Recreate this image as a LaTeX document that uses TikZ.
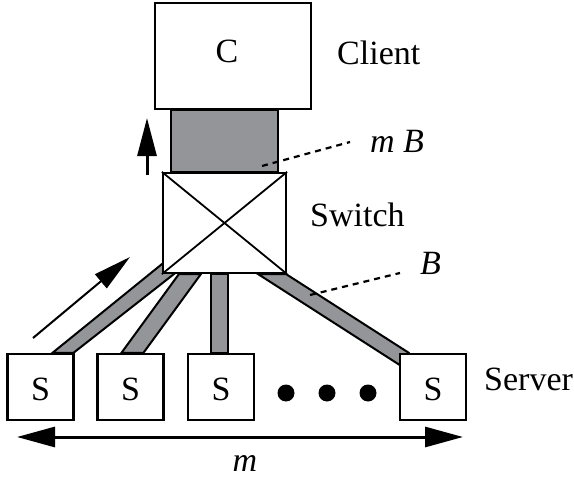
\documentclass[tikz,border=0pt]{standalone}
\usepackage{fontspec}
\setmainfont{Liberation Serif}
\usetikzlibrary{arrows.meta,calc,backgrounds}
\definecolor{bandgray}{RGB}{148,149,153}
\begin{document}
\begin{tikzpicture}[x=1pt,y=-1pt,
  box/.style={draw,line width=2.2pt,fill=white,inner sep=0pt},
  srv/.style={box,minimum width=66pt,minimum height=66pt},
  band/.style={draw,line width=2pt,fill=bandgray,line join=miter},
  lbl/.style={font=\fontsize{34}{40}\selectfont,inner sep=0pt},
  ann/.style={line width=2.2pt,dash pattern=on 6pt off 5pt},
  crossline/.style={line width=1.8pt},
]
\useasboundingbox (0,0) rectangle (574,479);

% boxes
\node[box,minimum width=156pt,minimum height=106pt] (cl) at (233,56) {};
\node[box,minimum width=123pt,minimum height=100pt] (sw) at (224.5,223) {};
\node[srv] (s1) at (40.5,387) {};
\node[srv] (s2) at (130.5,387) {};
\node[srv] (s3) at (221,387) {};
\node[srv] (s4) at (433,387) {};

\draw[crossline] (sw.north west) -- (sw.south east);
\draw[crossline] (sw.south west) -- (sw.north east);

% links (bands)
\begin{scope}[on background layer]
\draw[band] ($(cl.south)+(-62,0)$) rectangle ($(sw.north)+(53.5,0)$);
\draw[band] ($(s1.north west)+(46,0)$) -- ($(sw.south west)+(0,-10)$)
   -- ($(sw.south west)+(12,0)$) -- ($(s1.north west)+(67,0)$) -- cycle;
\draw[band] ($(s2.north west)+(25,0)$) -- ($(sw.south west)+(17,0)$)
   -- ($(sw.south west)+(39,0)$) -- ($(s2.north west)+(47,0)$) -- cycle;
\draw[band] ($(s3.north west)+(24,0)$) -- ($(sw.south west)+(49,0)$)
   -- ($(sw.south west)+(66,0)$) -- ($(s3.north west)+(41,0)$) -- cycle;
\draw[band] ($(sw.south east)+(-29,0)$) -- ($(sw.south east)+(-1,0)$)
   -- ($(s4.north west)+(10,0)$) -- ($(s4.north west)+(10,18)$) -- cycle;
\end{scope}

% texts
\node[lbl,anchor=base] (ctext) at (227,63) {C};
\node[lbl,anchor=base west] (client) at (337,64) {Client};
\node[lbl,anchor=base west] (switch) at (310,226) {Switch};
\node[lbl,anchor=base west] (mB) at (370,152) {\itshape m B};
\node[lbl,anchor=base west] (B) at (420,274) {\itshape B};
\node[lbl,anchor=base west] (server) at (484,390) {Server};
\foreach \s in {s1,s2,s3,s4}
  \node[lbl,anchor=base] at ($(\s.center)+(0,13)$) {S};
\node[lbl,anchor=base] (mlbl) at (245,471) {\itshape m};

% dots
\foreach \x [count=\i] in {286,327,368}
  \fill (\x,393) circle (8.5pt) coordinate (dot\i);

% annotation lines
\coordinate (mBstart) at (262,166);
\coordinate (mBend) at (350,142);
\coordinate (Bstart) at (310,295);
\coordinate (Bend) at (400,273);
\draw[ann] (mBstart) -- (mBend);
\draw[ann] (Bstart) -- (Bend);

% flow arrows
\coordinate (upA) at (147,175);
\coordinate (upB) at (147,118);
\draw[line width=3pt,-{Triangle[length=38pt,width=19pt]}] (upA) -- (upB);
\coordinate (dgA) at (33,338);
\coordinate (dgB) at (130,257);
\draw[line width=2pt,-{Triangle[length=38pt,width=18pt]}] (dgA) -- (dgB);

% width arrow
\coordinate (wL) at (17,437);
\coordinate (wR) at (463,437);
\draw[line width=3pt,{Triangle[length=38pt,width=20pt]}-{Triangle[length=38pt,width=20pt]}] (wL) -- (wR);
\end{tikzpicture}
\end{document}
